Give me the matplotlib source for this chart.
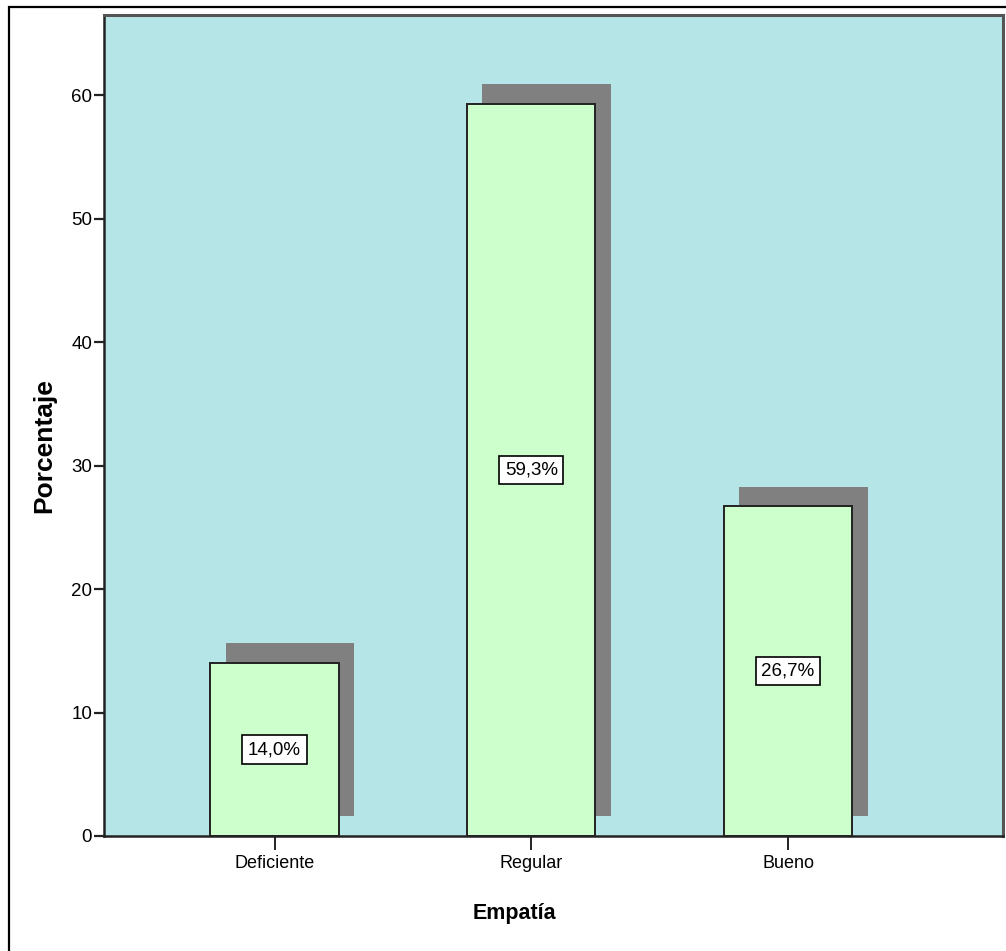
import matplotlib
matplotlib.use("Agg")
import matplotlib.pyplot as plt
from matplotlib.patches import Rectangle

categorias = ["Deficiente", "Regular", "Bueno"]
porcentajes = [14.0, 59.3, 26.7]
etiquetas = ["14,0%", "59,3%", "26,7%"]
yticks = [0, 10, 20, 30, 40, 50, 60]

FONDO = "#b5e5e7"
BARRA = "#ccffcc"
SOMBRA = "#808080"
fuente = ["Liberation Sans Narrow", "Liberation Sans", "DejaVu Sans"]

plt.rcParams["font.family"] = fuente

fig = plt.figure(figsize=(10.06, 9.51), dpi=100)
ax = fig.add_axes([104 / 1006, 1 - 836 / 951, 899 / 1006, 821 / 951])
ax.set_facecolor(FONDO)

x = list(range(len(categorias)))
ancho = 0.5
dx, dy = 0.06, 1.6

# sombra desplazada detras de cada barra
ax.bar([i + dx for i in x], porcentajes, width=ancho, bottom=dy,
       color=SOMBRA, edgecolor="none", zorder=1)
ax.bar(x, porcentajes, width=ancho, color=BARRA, edgecolor="#222222",
       linewidth=1.4, zorder=2)

for i, v, t in zip(x, porcentajes, etiquetas):
    ax.text(i, v / 2, t, ha="center", va="center", fontsize=13.5, zorder=3,
            bbox=dict(boxstyle="square,pad=0.3", fc="white", ec="black", lw=1.2))

ax.set_xlim(-0.664, 2.837)
ax.set_ylim(0, 66.5)
ax.set_xticks(x)
ax.set_xticklabels(categorias, fontsize=13)
ax.set_yticks(yticks)
ax.set_yticklabels([str(t) for t in yticks], fontsize=13.5)
ax.tick_params(axis="x", length=10, width=1.4, pad=4, color="#222222")
ax.tick_params(axis="y", length=7.5, width=1.6, pad=1, color="#222222")

for s in ["left", "bottom"]:
    ax.spines[s].set_linewidth(1.8)
    ax.spines[s].set_color("#222222")
for s in ["top", "right"]:
    ax.spines[s].set_linewidth(2.2)
    ax.spines[s].set_color("#555555")

ax.set_xlabel("Empatía", fontsize=15.5, fontweight="bold")
ax.xaxis.set_label_coords(0.456, -0.094)
ax.xaxis.label.set_va("center")
ax.set_ylabel("Porcentaje", fontsize=19, fontweight="bold")
ax.yaxis.set_label_coords(-0.067, 0.476)
ax.yaxis.label.set_va("center")

# marco exterior
fig.add_artist(Rectangle((9 / 1006, -0.1), 1.1, (951 - 7) / 951 + 0.1,
                         transform=fig.transFigure, fill=False,
                         edgecolor="black", linewidth=1.6))

fig.savefig("out.png", dpi=100)
